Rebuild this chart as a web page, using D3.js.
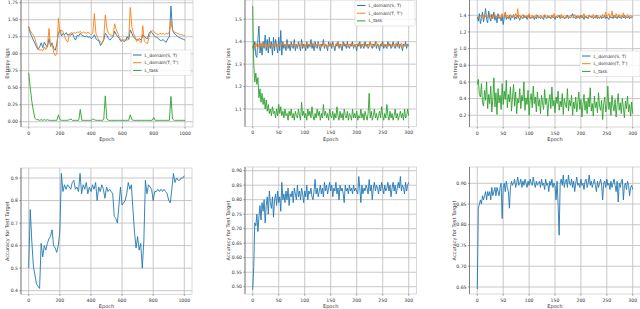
<!DOCTYPE html>
<html>
<head>
<meta charset="utf-8">
<script src="https://cdn.jsdelivr.net/npm/d3@7"></script>
<style>
  body { margin: 0; background: #fff; }
  text { font-family: "DejaVu Sans", sans-serif; fill: #333; }
</style>
</head>
<body>
<svg id="chart" width="640" height="309"></svg>
<script>
// ---- data ----
const seriesNames = ["L_domain(S, T)", "L_domain(T, T')", "L_task"]

// panel 1: 1000 epochs, one value every 10 epochs
const lossSTLong = [1.40,1.30,1.25,1.20,1.15,1.10,1.06,1.10,1.16,1.09,
  1.17,1.12,1.10,1.22,1.12,1.16,1.08,1.05,1.15,1.30,
  1.35,1.26,1.30,1.28,1.31,1.27,1.29,1.27,1.30,1.24,
  1.20,1.27,1.26,1.30,1.27,1.26,1.25,1.26,1.24,1.25,
  1.22,1.24,1.28,1.22,1.20,1.19,1.12,1.16,1.20,1.30,
  1.27,1.22,1.20,1.23,1.25,1.33,1.28,1.25,1.22,1.18,
  1.20,1.18,1.19,1.25,1.21,1.35,1.30,1.25,1.22,1.21,
  1.20,1.22,1.20,1.28,1.25,1.23,1.22,1.30,1.33,1.31,
  1.27,1.25,1.24,1.22,1.20,1.19,1.21,1.18,1.17,1.22,
  1.25,1.70,1.35,1.30,1.28,1.26,1.24,1.23,1.22,1.21,1.20]
const lossTTLong = [1.40,1.34,1.30,1.27,1.22,1.14,1.08,1.05,1.06,1.04,
  1.10,1.06,1.12,1.37,1.10,1.15,1.02,0.97,1.00,1.52,
  1.30,1.35,1.32,1.25,1.20,1.17,1.28,1.31,1.30,1.31,
  1.30,1.32,1.31,1.33,1.30,1.32,1.31,1.30,1.32,1.29,
  1.28,1.30,1.59,1.30,1.24,1.20,1.17,1.15,1.22,1.57,
  1.38,1.30,1.28,1.27,1.26,1.44,1.35,1.30,1.24,1.20,
  1.20,1.20,1.21,1.20,1.22,1.68,1.40,1.30,1.25,1.18,
  1.22,1.18,1.16,1.41,1.18,1.16,1.15,1.24,1.32,1.34,
  1.33,1.30,1.29,1.28,1.30,1.29,1.30,1.28,1.30,1.29,
  1.32,1.49,1.35,1.32,1.31,1.30,1.29,1.28,1.28,1.27,1.27]
const taskLong = [0.72,0.50,0.30,0.16,0.05,0.03,0.03,0.02,0.03,0.02,
  0.03,0.02,0.03,0.02,0.02,0.02,0.02,0.02,0.02,0.10,
  0.03,0.02,0.02,0.02,0.02,0.02,0.03,0.04,0.02,0.02,
  0.02,0.02,0.02,0.18,0.02,0.02,0.02,0.02,0.02,0.02,
  0.02,0.04,0.03,0.02,0.02,0.02,0.02,0.02,0.03,0.38,
  0.04,0.02,0.02,0.02,0.02,0.02,0.02,0.02,0.02,0.02,
  0.02,0.02,0.02,0.02,0.02,0.10,0.03,0.02,0.02,0.02,
  0.02,0.02,0.02,0.02,0.02,0.02,0.02,0.02,0.02,0.02,
  0.06,0.02,0.02,0.02,0.02,0.02,0.02,0.02,0.02,0.02,
  0.02,0.37,0.04,0.02,0.02,0.02,0.02,0.02,0.02,0.02,0.02]

// panel 2: 300 epochs, one value every 2 epochs
const lossSTMid = [1.38,1.36,1.40,1.34,1.33,1.41,1.47,1.35,1.39,1.34,
  1.40,1.37,1.43,1.36,1.41,1.35,1.42,1.37,1.40,1.34,
  1.42,1.36,1.41,1.38,1.35,1.42,1.36,1.45,1.34,1.40,
  1.37,1.39,1.36,1.41,1.37,1.39,1.36,1.40,1.38,1.37,
  1.41,1.36,1.39,1.37,1.40,1.38,1.36,1.41,1.37,1.39,
  1.38,1.36,1.40,1.37,1.39,1.38,1.41,1.37,1.39,1.36,
  1.40,1.38,1.37,1.40,1.38,1.36,1.39,1.38,1.41,1.37,
  1.39,1.38,1.36,1.40,1.38,1.39,1.37,1.40,1.38,1.36,
  1.39,1.38,1.40,1.37,1.39,1.38,1.36,1.40,1.38,1.39,
  1.37,1.40,1.38,1.37,1.39,1.38,1.40,1.37,1.39,1.38,
  1.36,1.39,1.38,1.40,1.37,1.39,1.38,1.37,1.40,1.38,
  1.39,1.37,1.38,1.40,1.38,1.37,1.39,1.38,1.40,1.37,
  1.39,1.38,1.36,1.39,1.38,1.40,1.37,1.39,1.38,1.37,
  1.40,1.38,1.39,1.37,1.38,1.40,1.38,1.37,1.39,1.38,
  1.40,1.37,1.39,1.38,1.36,1.39,1.38,1.40,1.37,1.39,1.38]
const lossTTMid = [1.385,1.39,1.375,1.395,1.38,1.37,1.39,1.38,1.395,1.375,
  1.39,1.38,1.395,1.375,1.385,1.39,1.375,1.395,1.38,1.39,
  1.375,1.385,1.38,1.395,1.38,1.375,1.39,1.38,1.395,1.385,
  1.39,1.375,1.38,1.395,1.385,1.39,1.38,1.375,1.39,1.385,
  1.395,1.38,1.39,1.375,1.385,1.39,1.38,1.395,1.385,1.375,
  1.39,1.38,1.395,1.385,1.39,1.375,1.385,1.39,1.395,1.38,
  1.375,1.39,1.385,1.395,1.38,1.39,1.375,1.385,1.395,1.38,
  1.39,1.385,1.375,1.39,1.38,1.395,1.385,1.39,1.38,1.375,
  1.39,1.395,1.38,1.39,1.375,1.385,1.39,1.38,1.395,1.385,
  1.39,1.375,1.385,1.39,1.38,1.395,1.385,1.375,1.39,1.38,
  1.39,1.385,1.395,1.38,1.375,1.39,1.38,1.395,1.39,1.385,
  1.375,1.39,1.38,1.40,1.385,1.39,1.375,1.38,1.39,1.40,
  1.385,1.39,1.375,1.385,1.395,1.38,1.39,1.385,1.375,1.39,
  1.38,1.395,1.385,1.39,1.375,1.385,1.39,1.38,1.395,1.375,
  1.385,1.39,1.38,1.395,1.385,1.375,1.39,1.38,1.39,1.385,1.38]
const taskMid = [1.56,1.30,1.22,1.26,1.21,1.24,1.15,1.19,1.13,1.17,
  1.12,1.15,1.10,1.14,1.09,1.12,1.08,1.10,1.07,1.11,
  1.08,1.09,1.06,1.10,1.07,1.12,1.08,1.11,1.07,1.09,
  1.06,1.10,1.07,1.08,1.05,1.09,1.07,1.10,1.06,1.08,
  1.05,1.09,1.07,1.06,1.10,1.07,1.05,1.13,1.07,1.09,
  1.06,1.08,1.05,1.10,1.07,1.09,1.06,1.11,1.07,1.05,
  1.08,1.06,1.10,1.07,1.09,1.05,1.08,1.06,1.12,1.07,
  1.09,1.06,1.08,1.05,1.10,1.07,1.06,1.09,1.05,1.08,
  1.06,1.11,1.07,1.05,1.09,1.06,1.08,1.05,1.10,1.07,
  1.06,1.09,1.05,1.08,1.07,1.05,1.10,1.06,1.08,1.06,
  1.09,1.05,1.07,1.06,1.10,1.06,1.08,1.05,1.09,1.07,
  1.05,1.08,1.17,1.06,1.09,1.05,1.07,1.10,1.06,1.08,
  1.05,1.07,1.09,1.06,1.11,1.07,1.05,1.08,1.06,1.12,
  1.07,1.05,1.09,1.06,1.08,1.05,1.07,1.10,1.06,1.08,
  1.05,1.07,1.09,1.06,1.08,1.05,1.10,1.06,1.07,1.10,1.07]

// panel 3: 300 epochs, one value every 2 epochs
const lossSTShort = [1.38,1.33,1.42,1.30,1.36,1.44,1.32,1.39,1.48,1.35,
  1.31,1.45,1.37,1.33,1.41,1.36,1.44,1.34,1.39,1.31,
  1.42,1.36,1.38,1.33,1.40,1.29,1.37,1.43,1.35,1.38,
  1.36,1.40,1.34,1.39,1.37,1.41,1.35,1.38,1.36,1.40,
  1.37,1.34,1.39,1.38,1.36,1.40,1.37,1.39,1.35,1.38,
  1.40,1.36,1.38,1.37,1.39,1.35,1.38,1.36,1.40,1.37,
  1.38,1.36,1.39,1.37,1.35,1.40,1.38,1.36,1.39,1.37,
  1.38,1.36,1.40,1.37,1.38,1.35,1.39,1.37,1.38,1.40,
  1.36,1.38,1.37,1.39,1.36,1.38,1.37,1.40,1.36,1.38,
  1.37,1.39,1.42,1.37,1.38,1.36,1.39,1.37,1.38,1.36,
  1.40,1.37,1.38,1.35,1.39,1.37,1.38,1.36,1.40,1.38,
  1.37,1.39,1.36,1.38,1.37,1.40,1.36,1.38,1.37,1.39,
  1.36,1.38,1.37,1.40,1.36,1.38,1.37,1.35,1.39,1.37,
  1.38,1.36,1.40,1.37,1.38,1.36,1.39,1.37,1.38,1.36,
  1.39,1.37,1.40,1.36,1.38,1.37,1.39,1.36,1.38,1.37,1.38]
const lossTTShort = [1.38,1.39,1.37,1.40,1.38,1.39,1.37,1.41,1.38,1.40,
  1.37,1.39,1.42,1.38,1.36,1.40,1.38,1.41,1.37,1.39,
  1.38,1.40,1.36,1.39,1.42,1.37,1.38,1.44,1.37,1.40,
  1.38,1.36,1.41,1.39,1.37,1.40,1.38,1.42,1.37,1.48,
  1.38,1.40,1.36,1.39,1.41,1.37,1.39,1.38,1.40,1.37,
  1.42,1.38,1.36,1.40,1.38,1.39,1.37,1.41,1.38,1.39,
  1.37,1.40,1.38,1.36,1.39,1.41,1.38,1.37,1.40,1.38,
  1.39,1.36,1.40,1.38,1.42,1.37,1.39,1.38,1.40,1.37,
  1.38,1.41,1.37,1.39,1.38,1.36,1.40,1.38,1.39,1.37,
  1.40,1.38,1.37,1.39,1.41,1.38,1.36,1.40,1.38,1.39,
  1.37,1.40,1.38,1.42,1.37,1.39,1.38,1.36,1.40,1.38,
  1.39,1.37,1.41,1.38,1.39,1.37,1.40,1.38,1.36,1.39,
  1.38,1.41,1.37,1.39,1.44,1.38,1.40,1.42,1.37,1.39,
  1.45,1.38,1.40,1.37,1.42,1.38,1.39,1.41,1.37,1.40,
  1.38,1.43,1.37,1.39,1.38,1.41,1.37,1.39,1.40,1.38,1.39]
const taskShort = [0.57,0.63,0.45,0.42,0.58,0.36,0.31,0.50,0.38,0.60,
  0.28,0.45,0.34,0.55,0.24,0.40,0.65,0.30,0.47,0.21,
  0.52,0.35,0.44,0.27,0.58,0.33,0.49,0.39,0.62,0.29,
  0.45,0.36,0.54,0.25,0.42,0.57,0.31,0.48,0.22,0.40,
  0.35,0.52,0.28,0.44,0.37,0.60,0.26,0.41,0.33,0.50,
  0.20,0.38,0.46,0.29,0.55,0.34,0.42,0.24,0.48,0.31,
  0.39,0.22,0.44,0.35,0.27,0.51,0.33,0.40,0.19,0.36,
  0.45,0.28,0.54,0.31,0.38,0.23,0.42,0.34,0.49,0.26,
  0.37,0.30,0.46,0.21,0.40,0.33,0.29,0.52,0.25,0.38,
  0.31,0.44,0.20,0.36,0.28,0.42,0.24,0.35,0.48,0.27,
  0.39,0.18,0.33,0.45,0.26,0.37,0.22,0.41,0.30,0.53,
  0.25,0.34,0.19,0.43,0.29,0.36,0.23,0.47,0.31,0.26,
  0.38,0.15,0.34,0.42,0.24,0.30,0.55,0.27,0.36,0.20,
  0.44,0.31,0.25,0.39,0.18,0.33,0.46,0.26,0.35,0.22,
  0.40,0.29,0.17,0.37,0.28,0.43,0.24,0.33,0.19,0.36,0.22]

// bottom row: accuracy on the test target
const accLong = [0.50,0.76,0.62,0.51,0.47,0.43,0.42,0.41,0.61,0.55,
  0.60,0.58,0.61,0.63,0.64,0.67,0.60,0.59,0.57,0.60,
  0.66,0.92,0.84,0.87,0.85,0.87,0.86,0.85,0.88,0.89,
  0.85,0.86,0.84,0.92,0.83,0.87,0.85,0.88,0.83,0.86,
  0.84,0.87,0.85,0.88,0.80,0.86,0.84,0.87,0.85,0.81,
  0.86,0.84,0.85,0.84,0.83,0.73,0.72,0.70,0.78,0.86,
  0.78,0.79,0.80,0.83,0.88,0.85,0.87,0.76,0.66,0.59,
  0.64,0.58,0.61,0.50,0.62,0.89,0.83,0.87,0.86,0.85,
  0.80,0.84,0.84,0.85,0.84,0.85,0.84,0.85,0.84,0.83,
  0.80,0.79,0.85,0.92,0.88,0.90,0.89,0.89,0.90,0.90,0.91]
const accMid = [0.49,0.57,0.72,0.71,0.75,0.69,0.74,0.78,0.73,0.79,
  0.76,0.80,0.72,0.78,0.81,0.75,0.83,0.79,0.77,0.81,
  0.74,0.80,0.82,0.78,0.83,0.79,0.81,0.76,0.86,0.80,
  0.82,0.79,0.83,0.80,0.84,0.78,0.82,0.81,0.83,0.79,
  0.84,0.82,0.80,0.85,0.81,0.83,0.80,0.84,0.82,0.79,
  0.83,0.81,0.85,0.80,0.83,0.82,0.84,0.81,0.80,0.83,
  0.87,0.82,0.84,0.81,0.83,0.85,0.82,0.84,0.81,0.86,
  0.83,0.85,0.82,0.84,0.86,0.83,0.85,0.81,0.84,0.83,
  0.86,0.82,0.84,0.80,0.85,0.83,0.84,0.82,0.79,0.85,
  0.83,0.84,0.82,0.85,0.83,0.84,0.82,0.85,0.83,0.84,
  0.83,0.82,0.88,0.84,0.79,0.85,0.82,0.84,0.83,0.85,
  0.84,0.82,0.87,0.83,0.85,0.80,0.84,0.86,0.83,0.85,
  0.84,0.82,0.85,0.83,0.86,0.84,0.82,0.85,0.83,0.84,
  0.86,0.83,0.85,0.81,0.84,0.86,0.83,0.85,0.82,0.84,
  0.86,0.84,0.88,0.83,0.85,0.84,0.82,0.86,0.83,0.85,0.86]
const accShort = [0.645,0.84,0.85,0.86,0.85,0.87,0.86,0.87,0.88,0.86,
  0.88,0.87,0.88,0.86,0.89,0.87,0.88,0.89,0.87,0.89,
  0.88,0.87,0.89,0.90,0.815,0.89,0.90,0.88,0.905,0.89,
  0.88,0.84,0.89,0.905,0.895,0.90,0.91,0.89,0.90,0.915,
  0.895,0.90,0.91,0.89,0.905,0.895,0.91,0.90,0.89,0.905,
  0.895,0.91,0.90,0.895,0.915,0.90,0.89,0.905,0.895,0.90,
  0.905,0.89,0.91,0.895,0.90,0.885,0.91,0.895,0.90,0.88,
  0.905,0.895,0.91,0.89,0.90,0.895,0.86,0.905,0.85,0.775,
  0.90,0.91,0.895,0.92,0.89,0.905,0.91,0.89,0.92,0.90,
  0.895,0.91,0.89,0.905,0.88,0.90,0.915,0.895,0.90,0.89,
  0.91,0.895,0.90,0.885,0.905,0.91,0.89,0.90,0.92,0.895,
  0.905,0.89,0.90,0.91,0.895,0.88,0.905,0.89,0.90,0.91,
  0.895,0.86,0.90,0.905,0.89,0.91,0.895,0.90,0.885,0.905,
  0.89,0.90,0.91,0.895,0.88,0.905,0.855,0.90,0.89,0.905,
  0.91,0.86,0.895,0.90,0.885,0.905,0.895,0.87,0.89,0.895,0.885]

// tick labels
const xTicksLong = [0, 200, 400, 600, 800, 1000]
const xTicksShort = [0, 50, 100, 150, 200, 250, 300]
const yTicksP1 = [0, 0.25, 0.5, 0.75, 1.0, 1.25, 1.5, 1.75]
const yTicksP2 = [1.1, 1.2, 1.3, 1.4, 1.5]
const yTicksP3 = [0.2, 0.4, 0.6, 0.8, 1.0, 1.2, 1.4]
const yTicksP4 = [0.4, 0.5, 0.6, 0.7, 0.8, 0.9]
const yTicksP5 = [0.5, 0.55, 0.6, 0.65, 0.7, 0.75, 0.8, 0.85, 0.9]
const yTicksP6 = [0.65, 0.7, 0.75, 0.8, 0.85, 0.9]

// ---- drawing ----
const BLUE = '#1f77b4', ORANGE = '#ff7f0e', GREEN = '#2ca02c'
const svg = d3.select('#chart')

const panels = [
  {box: [21, 0, 193, 127], xMax: 1000, xr: [28.7, 185], xTicks: xTicksLong,
   yd: [0, 1.75], yr: [121.7, 2.7], yTicks: yTicksP1, fmt: '.2f', ylab: 'Entropy loss', ylx: 7,
   series: [lossSTLong, lossTTLong, taskLong], legend: [131, 50]},
  {box: [245, 0, 416.5, 126.7], xMax: 300, xr: [252.7, 408.7], xTicks: xTicksShort,
   yd: [1.1, 1.5], yr: [109, 19.3], yTicks: yTicksP2, fmt: '.1f', ylab: 'Entropy loss', ylx: 228,
   series: [lossSTMid, lossTTMid, taskMid], legend: [355, 0.5]},
  {box: [469.5, 0, 641, 127], xMax: 300, xr: [477.3, 632.7], xTicks: xTicksShort,
   yd: [0.2, 1.4], yr: [115.3, 15.3], yTicks: yTicksP3, fmt: '.1f', ylab: 'Entropy loss', ylx: 455,
   series: [lossSTShort, lossTTShort, taskShort], legend: [580, 51]},
  {box: [21, 168, 192, 294.3], xMax: 1000, xr: [28.7, 184.3], xTicks: xTicksLong,
   yd: [0.4, 0.9], yr: [290.7, 178], yTicks: yTicksP4, fmt: '.1f', ylab: 'Accuracy for Test Target', ylx: 7,
   series: [accLong]},
  {box: [245, 167, 416.5, 294], xMax: 300, xr: [252.7, 408.7], xTicks: xTicksShort,
   yd: [0.5, 0.9], yr: [286.7, 170.7], yTicks: yTicksP5, fmt: '.2f', ylab: 'Accuracy for Test Target', ylx: 228,
   series: [accMid]},
  {box: [469.5, 167, 641, 294], xMax: 300, xr: [477.3, 632.7], xTicks: xTicksShort,
   yd: [0.65, 0.9], yr: [287, 183.3], yTicks: yTicksP6, fmt: '.2f', ylab: 'Accuracy for Test Target', ylx: 454,
   series: [accShort]}
]
const colors = [BLUE, ORANGE, GREEN]

panels.forEach((p, k) => {
  const [x0, y0, x1, y1] = p.box
  const x = d3.scaleLinear().domain([0, p.xMax]).range(p.xr)
  const y = d3.scaleLinear().domain(p.yd).range(p.yr)
  const g = svg.append('g')

  // grid
  g.selectAll('.gx').data(p.xTicks).enter().append('line')
    .attr('x1', d => x(d)).attr('x2', d => x(d)).attr('y1', y0).attr('y2', y1)
    .attr('stroke', '#bdbdbd').attr('stroke-width', 0.85)
  g.selectAll('.gy').data(p.yTicks).enter().append('line')
    .attr('x1', x0).attr('x2', x1).attr('y1', d => y(d)).attr('y2', d => y(d))
    .attr('stroke', '#bdbdbd').attr('stroke-width', 0.85)

  // frame
  g.append('rect').attr('x', x0).attr('y', y0).attr('width', x1 - x0).attr('height', y1 - y0)
    .attr('fill', 'none').attr('stroke', '#cfcfcf').attr('stroke-width', 0.8)
  g.append('line').attr('x1', x0).attr('x2', x0).attr('y1', y0).attr('y2', y1)
    .attr('stroke', '#777').attr('stroke-width', 0.9)

  // ticks + labels
  g.selectAll('.tx').data(p.xTicks).enter().append('line')
    .attr('x1', d => x(d)).attr('x2', d => x(d)).attr('y1', y1).attr('y2', y1 + 1.6)
    .attr('stroke', '#555').attr('stroke-width', 0.6)
  g.selectAll('.lx').data(p.xTicks).enter().append('text')
    .attr('x', d => x(d)).attr('y', y1 + 7.6).attr('text-anchor', 'middle')
    .attr('font-size', 4.6).text(d => d)
  g.selectAll('.ty').data(p.yTicks).enter().append('line')
    .attr('x1', x0 - 1.6).attr('x2', x0).attr('y1', d => y(d)).attr('y2', d => y(d))
    .attr('stroke', '#555').attr('stroke-width', 0.6)
  g.selectAll('.ly').data(p.yTicks).enter().append('text')
    .attr('x', x0 - 3).attr('y', d => y(d)).attr('dy', '0.35em').attr('text-anchor', 'end')
    .attr('font-size', 4.6).text(d => d3.format(p.fmt)(d))

  g.append('text').attr('x', (x(0) + x(p.xMax)) / 2).attr('y', y1 + 13.8)
    .attr('text-anchor', 'middle').attr('font-size', 5).text('Epoch')
  g.append('text')
    .attr('transform', `translate(${p.ylx},${(y0 + y1) / 2}) rotate(-90)`)
    .attr('dy', '0.35em').attr('text-anchor', 'middle').attr('font-size', 5).text(p.ylab)

  // series
  const clipId = 'clip' + k
  svg.append('clipPath').attr('id', clipId).append('rect')
    .attr('x', x0).attr('y', y0).attr('width', x1 - x0).attr('height', y1 - y0)
  const lines = g.append('g').attr('clip-path', `url(#${clipId})`)
  p.series.forEach((vals, i) => {
    const step = p.xMax / (vals.length - 1)
    const line = d3.line().x((d, j) => x(j * step)).y(d => y(d))
    lines.append('path').datum(vals)
      .attr('d', line).attr('fill', 'none')
      .attr('stroke', colors[i]).attr('stroke-width', 0.9).attr('stroke-linejoin', 'round')
  })

  // legend
  if (p.legend) {
    const [lx, ly] = p.legend
    const lg = g.append('g').attr('transform', `translate(${lx},${ly})`)
    lg.append('rect').attr('width', 60).attr('height', 25.5).attr('rx', 1.2)
      .attr('fill', '#fff').attr('fill-opacity', 0.85).attr('stroke', '#d6d6d6').attr('stroke-width', 0.6)
    seriesNames.forEach((name, i) => {
      const yy = 5 + i * 7.7
      lg.append('line').attr('x1', 2).attr('x2', 10.5).attr('y1', yy).attr('y2', yy)
        .attr('stroke', colors[i]).attr('stroke-width', 1)
      lg.append('text').attr('x', 13.5).attr('y', yy).attr('dy', '0.35em')
        .attr('font-size', 4.4).text(name)
    })
  }
})
</script>
</body>
</html>
